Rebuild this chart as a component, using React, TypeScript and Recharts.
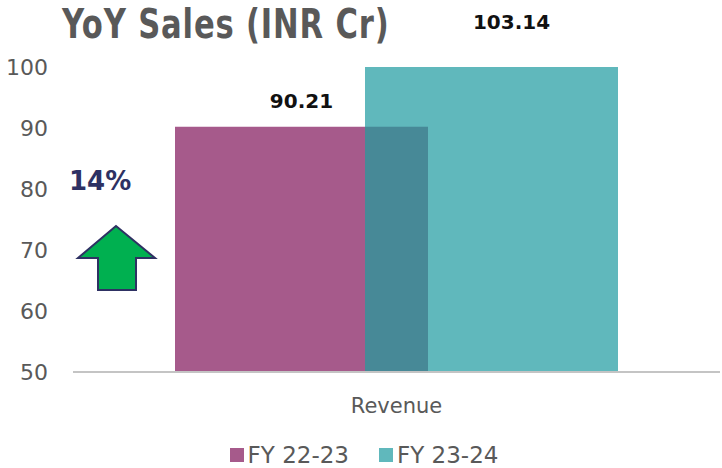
import React from 'react'
import { BarChart, Bar, XAxis, YAxis, Legend, LabelList } from 'recharts'

const categories = ['Revenue']
const fy2223 = [90.21]
const fy2324 = [103.14]
const yTicks = [50, 60, 70, 80, 90, 100]
const seriesNames = ['FY 22-23', 'FY 23-24']
const growthLabel = '14%'

const PURPLE = '#a65a8b'
const TEAL = '#60b8bc'
const OVERLAP = '#478997'
const GREY = '#595959'
const FONT = '"DejaVu Sans", sans-serif'
const BAR_GAP = -63

const data = categories.map((name, i) => ({ name, fy2223: fy2223[i], fy2324: fy2324[i] }))

// teal bar: clip to the plot top and tint the part lying over the purple bar
function TealShape(props: any) {
  const { x, y, width, height, background, payload } = props
  const top = Math.max(y, background.y)
  const perUnit = height / (payload.fy2324 - yTicks[0])
  const purpleTop = y + height - (payload.fy2223 - yTicks[0]) * perUnit
  const bottom = y + height
  return (
    <g>
      <rect x={x} y={top} width={width} height={bottom - top} fill={TEAL} />
      <rect x={x} y={purpleTop} width={-BAR_GAP} height={bottom - purpleTop} fill={OVERLAP} />
    </g>
  )
}

function ValueLabel(props: any) {
  const { x, y, width, value, dx = 0 } = props
  return (
    <text
      x={x + width / 2 + dx}
      y={y - 24}
      textAnchor="middle"
      dominantBaseline="middle"
      fontFamily={FONT}
      fontWeight="bold"
      fontSize={20}
      fill="#111"
    >
      {value.toFixed(2)}
    </text>
  )
}

function LegendContent() {
  const colors = [PURPLE, TEAL]
  return (
    <div style={{ display: 'flex', justifyContent: 'center', gap: 30, fontFamily: FONT, fontSize: 23, color: GREY, lineHeight: '26px', paddingLeft: 8 }}>
      {seriesNames.map((n, i) => (
        <div key={n} style={{ display: 'flex', alignItems: 'center' }}>
          <span style={{ width: 14, height: 14, background: colors[i], marginRight: 4, display: 'inline-block' }} />
          {n}
        </div>
      ))}
    </div>
  )
}

export default function App() {
  return (
    <div style={{ position: 'absolute', left: 0, top: 0, width: 722, height: 468, background: '#fff' }}>
      <BarChart
        width={722}
        height={468}
        data={data}
        margin={{ top: 67, right: 2, bottom: 0, left: 0 }}
        barSize={253}
        barGap={BAR_GAP}
      >
        <XAxis
          dataKey="name"
          tickLine={false}
          axisLine={{ stroke: '#c4c4c4', strokeWidth: 2 }}
          tick={{ fill: GREY, fontSize: 21, fontFamily: FONT }}
          tickMargin={20}
          height={70}
        />
        <YAxis
          domain={[50, 100]}
          ticks={yTicks}
          allowDataOverflow
          axisLine={false}
          tickLine={false}
          tickSize={0}
          tickMargin={25}
          width={73}
          tick={{ fill: GREY, fontSize: 22, fontFamily: FONT }}
        />
        <Legend verticalAlign="bottom" content={<LegendContent />} />
        <Bar dataKey="fy2223" name={seriesNames[0]} fill={PURPLE} isAnimationActive={false}>
          <LabelList dataKey="fy2223" content={<ValueLabel />} />
        </Bar>
        <Bar dataKey="fy2324" name={seriesNames[1]} fill={TEAL} shape={<TealShape />} isAnimationActive={false}>
          <LabelList dataKey="fy2324" content={<ValueLabel dx={20} />} />
        </Bar>
      </BarChart>
      <div
        style={{
          position: 'absolute',
          left: 62,
          top: 0,
          fontFamily: '"DejaVu Sans Condensed", "DejaVu Sans", sans-serif',
          fontWeight: 'bold',
          fontSize: 41,
          color: GREY,
          letterSpacing: 1,
          lineHeight: '48px',
          whiteSpace: 'nowrap',
          transform: 'scaleX(0.83)',
          transformOrigin: 'left top',
        }}
      >
        YoY Sales (INR Cr)
      </div>
      <div
        style={{
          position: 'absolute',
          left: 69,
          top: 166,
          fontFamily: FONT,
          fontWeight: 'bold',
          fontSize: 26,
          color: '#2e3163',
        }}
      >
        {growthLabel}
      </div>
      <svg style={{ position: 'absolute', left: 0, top: 0 }} width={200} height={320}>
        <polygon
          points="116,226 78,258 98,258 98,290 136,290 136,258 155,258"
          fill="#00b050"
          stroke="#2e3163"
          strokeWidth={2}
        />
      </svg>
    </div>
  )
}
